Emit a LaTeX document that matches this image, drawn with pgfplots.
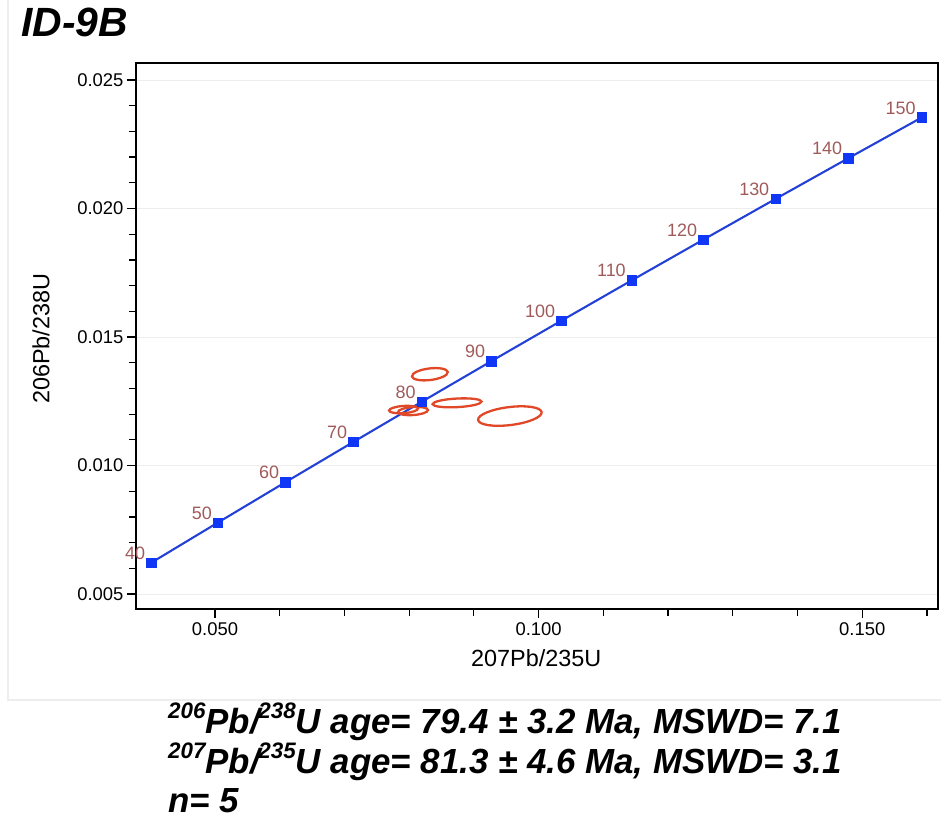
\documentclass[border=0pt]{standalone}
\usepackage{fontspec}
\setmainfont{Liberation Sans}
\usepackage{pgfplots}
\usepackage{pgfplotstable}
\pgfplotsset{compat=1.18}
\definecolor{concblue}{RGB}{35,65,215}
\definecolor{markblue}{RGB}{15,55,245}
\definecolor{agecol}{RGB}{160,90,90}
\definecolor{ellred}{RGB}{225,72,40}

\pgfplotstableread{
age x y
40 0.040180 0.006224
50 0.050475 0.007786
60 0.060872 0.009351
70 0.071372 0.010918
80 0.081975 0.012487
90 0.092683 0.014059
100 0.103498 0.015633
110 0.114420 0.017210
120 0.125449 0.018789
130 0.136588 0.020371
140 0.147836 0.021955
150 0.159196 0.023542
}\concordia

\newcommand\sups[1]{\raisebox{0.42em}{\fontsize{22.5}{22.5}\selectfont #1}}

\begin{document}
\begin{tikzpicture}
\useasboundingbox (0,0) rectangle (941bp,-822bp);
\draw[black!7, line width=1.2bp] (8bp,0bp) -- (8bp,-700bp) -- (941bp,-700bp);
\node[anchor=base west, inner sep=0pt, font=\fontsize{41}{41}\selectfont\bfseries\itshape] at (21bp,-36bp) {ID-9B};
\begin{axis}[
  at={(136bp,-63bp)}, anchor=north west,
  scale only axis, width=802bp, height=546bp,
  xmin=0.0378, xmax=0.1617, ymin=0.00442, ymax=0.02566,
  xtick={0.05,0.1,0.15},
  minor xtick={0.06,0.07,0.08,0.09,0.11,0.12,0.13,0.14,0.16},
  ytick={0.005,0.01,0.015,0.02,0.025},
  minor ytick={0.006,0.007,0.008,0.009,0.011,0.012,0.013,0.014,0.016,0.017,0.018,0.019,0.021,0.022,0.023,0.024},
  scaled ticks=false,
  xticklabel style={yshift=-1bp, /pgf/number format/.cd, fixed, fixed zerofill, precision=3, assume math mode=true},
  yticklabel style={/pgf/number format/.cd, fixed, fixed zerofill, precision=3, assume math mode=true},
  tick label style={font=\fontsize{18.5}{18.5}\selectfont},
  tick align=outside, tick pos=left,
  major tick length=9bp, minor tick length=7bp,
  every tick/.style={black, line width=1.2bp},
  axis line style={black, line width=1.3bp},
  ymajorgrids, grid style={black!7, line width=0.8bp},
  xlabel={207Pb/235U}, ylabel={206Pb/238U},
  label style={font=\fontsize{23.5}{23.5}\selectfont},
  x label style={at={(axis description cs:0.499,-0.106)}, anchor=base},
  y label style={at={(axis description cs:-0.108,0.495)}, anchor=base},
  clip=false,
]
\addplot[concblue, line width=2.1bp, mark=square*, mark size=4.7bp,
  mark options={markblue, draw=markblue, line width=0.5bp},
  nodes near coords, point meta=explicit symbolic,
  nodes near coords style={anchor=south east, inner sep=0pt, xshift=-6bp, yshift=3bp,
    font=\fontsize{18}{18}\selectfont, text=agecol}]
  table[x=x, y=y, meta=age] {\concordia};
\draw[ellred, line width=2.3bp] (axis cs:0.0832,0.013553) ellipse [x radius=18bp, y radius=5.8bp, rotate=7];
\draw[ellred, line width=2.3bp] (axis cs:0.07913,0.012179) ellipse [x radius=14.5bp, y radius=3.6bp, rotate=4];
\draw[ellred, line width=2.3bp] (axis cs:0.08060,0.012121) ellipse [x radius=15bp, y radius=4bp, rotate=4];
\draw[ellred, line width=2.3bp] (axis cs:0.08740,0.012440) ellipse [x radius=24.5bp, y radius=4.3bp, rotate=3];
\draw[ellred, line width=2.3bp] (axis cs:0.09556,0.011926) ellipse [x radius=32bp, y radius=9bp, rotate=7];
\end{axis}
\begin{scope}[every node/.style={anchor=base west, inner sep=0pt, font=\fontsize{35}{35}\selectfont\bfseries\itshape}]
\node at (168bp,-733bp) {\sups{206}Pb/\kern-0.04em\sups{238}U age= 79.4 ± 3.2 Ma, MSWD= 7.1};
\node at (168bp,-773bp) {\sups{207}Pb/\kern-0.04em\sups{235}U age= 81.3 ± 4.6 Ma, MSWD= 3.1};
\node at (168bp,-812bp) {n= 5};
\end{scope}
\end{tikzpicture}
\end{document}
